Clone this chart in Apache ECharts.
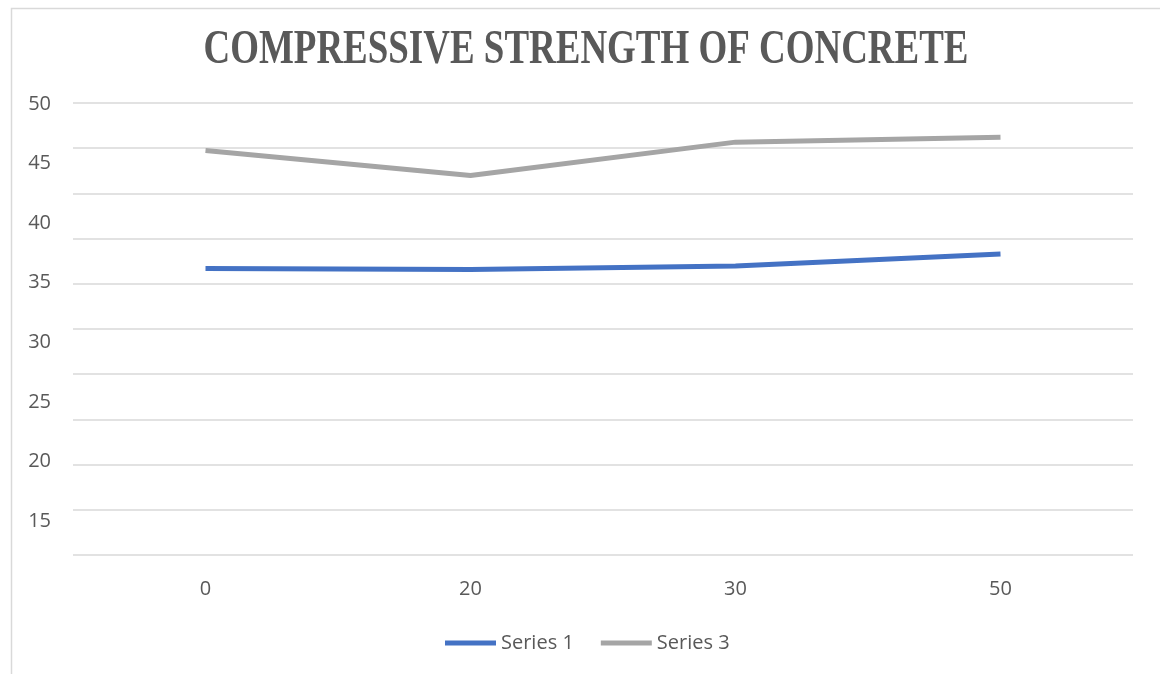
<!DOCTYPE html>
<html>
<head>
<meta charset="utf-8">
<title>Compressive Strength of Concrete</title>
<script src="https://cdn.jsdelivr.net/npm/echarts@6/dist/echarts.min.js"></script>
<style>
  html, body { margin: 0; padding: 0; background: #ffffff; }
  #chart { width: 1160px; height: 674px; }
</style>
</head>
<body>
<div id="chart"></div>
<script>
// Replacement percentage categories
const categories = ['0', '20', '30', '50'];

// Compressive strength values
const series1 = [36.2, 36.1, 36.4, 37.4];
const series3 = [46.1, 44.0, 46.8, 47.2];

// Value-axis labelling
const labelMin = 15;
const labelMax = 50;
const labelStep = 5;

const chart = echarts.init(document.getElementById('chart'));

const textColor = '#595959';
const gridColor = '#d9d9d9';
const labelFont = '"Open Sans", "Liberation Sans", sans-serif';

chart.setOption({
  animation: false,
  backgroundColor: '#ffffff',
  graphic: [
    {
      type: 'rect',
      left: 9, top: 6,
      shape: { width: 1200, height: 700 },
      style: { fill: 'none', stroke: '#d9d9d9', lineWidth: 1.5 },
      silent: true
    },
    {
      type: 'text',
      x: 586, y: 51,
      scaleX: 0.77,
      style: {
        text: 'COMPRESSIVE STRENGTH OF CONCRETE',
        fontFamily: 'Liberation Serif',
        fontSize: 48,
        fontWeight: 'bold',
        fill: textColor,
        align: 'center',
        verticalAlign: 'middle'
      },
      silent: true
    }
  ],
  legend: {
    left: 440,
    top: 628,
    icon: 'rect',
    itemWidth: 51,
    itemHeight: 5,
    itemGap: 27,
    textStyle: { color: textColor, fontSize: 20, fontFamily: labelFont },
    data: ['Series 1', 'Series 3']
  },
  grid: [
    { left: 73, right: 27, top: 103, bottom: 119 },
    { left: 73, right: 27, top: 104, bottom: 153 }
  ],
  xAxis: [
    {
      type: 'category',
      gridIndex: 0,
      data: categories,
      boundaryGap: true,
      axisLine: { show: false },
      axisTick: { show: false },
      axisLabel: { color: textColor, fontSize: 20, fontFamily: labelFont, margin: 24 }
    },
    {
      type: 'category',
      gridIndex: 1,
      data: categories,
      boundaryGap: true,
      show: false
    }
  ],
  yAxis: [
    {
      // horizontal gridlines across the plot area
      type: 'value',
      gridIndex: 0,
      min: 0, max: 10, interval: 1,
      axisLine: { show: false },
      axisTick: { show: false },
      axisLabel: { show: false },
      splitLine: { lineStyle: { color: gridColor, width: 1.5 } }
    },
    {
      // labelled strength scale
      type: 'value',
      gridIndex: 1,
      min: labelMin, max: labelMax, interval: labelStep,
      axisLine: { show: false },
      axisTick: { show: false },
      splitLine: { show: false },
      axisLabel: { color: textColor, fontSize: 20, fontFamily: labelFont, margin: 22 }
    }
  ],
  series: [
    {
      name: 'Series 1',
      type: 'line',
      xAxisIndex: 1, yAxisIndex: 1,
      data: series1,
      symbol: 'none',
      lineStyle: { color: '#4472C4', width: 5, cap: 'butt' },
      itemStyle: { color: '#4472C4' }
    },
    {
      name: 'Series 3',
      type: 'line',
      xAxisIndex: 1, yAxisIndex: 1,
      data: series3,
      symbol: 'none',
      lineStyle: { color: '#A5A5A5', width: 5, cap: 'butt' },
      itemStyle: { color: '#A5A5A5' }
    }
  ]
});
</script>
</body>
</html>
